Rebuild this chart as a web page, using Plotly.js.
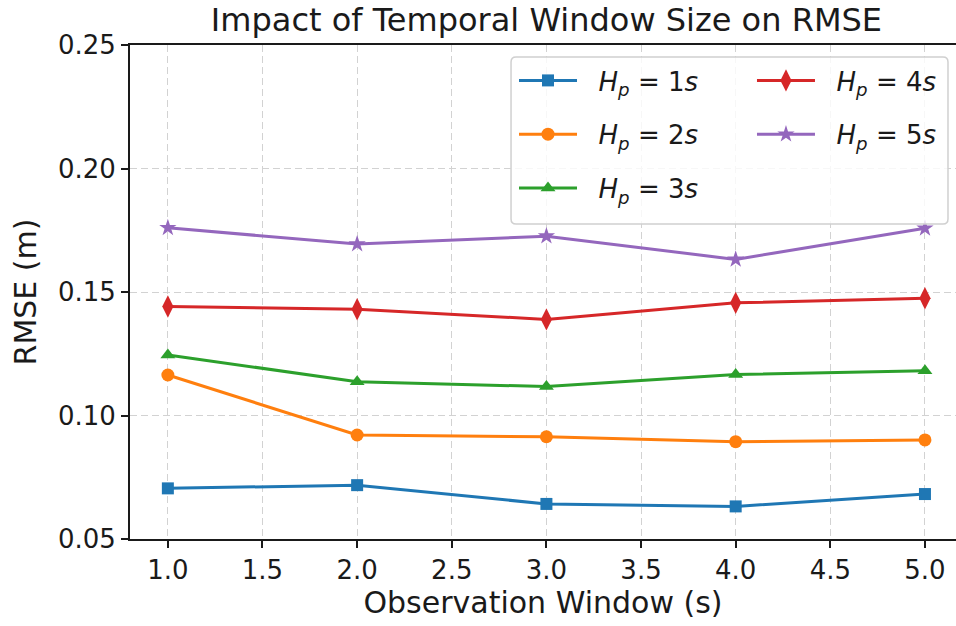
<!DOCTYPE html>
<html>
<head>
<meta charset="utf-8">
<script src="https://cdn.plot.ly/plotly-3.0.1.min.js"></script>
<style>html,body{margin:0;padding:0;background:#fff;}#chart{width:956px;height:626px;}</style>
</head>
<body>
<div id="chart"></div>
<script>
const windows = [1, 2, 3, 4, 5];
const seriesNames = ['H<sub>p</sub> = 1s', 'H<sub>p</sub> = 2s', 'H<sub>p</sub> = 3s', 'H<sub>p</sub> = 4s', 'H<sub>p</sub> = 5s'];
const legendLabels = ['&nbsp;&nbsp;<i>H</i><sub><i>p</i></sub> = 1<i>s</i>', '&nbsp;&nbsp;<i>H</i><sub><i>p</i></sub> = 2<i>s</i>', '&nbsp;&nbsp;<i>H</i><sub><i>p</i></sub> = 3<i>s</i>', '&nbsp;&nbsp;<i>H</i><sub><i>p</i></sub> = 4<i>s</i>', '&nbsp;&nbsp;<i>H</i><sub><i>p</i></sub> = 5<i>s</i>'];
const rmseH1 = [0.0705, 0.0718, 0.0642, 0.0632, 0.0682];
const rmseH2 = [0.1164, 0.0921, 0.0914, 0.0894, 0.0901];
const rmseH3 = [0.1245, 0.1137, 0.1117, 0.1166, 0.1181];
const rmseH4 = [0.1441, 0.1430, 0.1389, 0.1456, 0.1475];
const rmseH5 = [0.1760, 0.1694, 0.1726, 0.1632, 0.1758];
const yTicks = [0.05, 0.10, 0.15, 0.20, 0.25];
const xTicks = [1.0, 1.5, 2.0, 2.5, 3.0, 3.5, 4.0, 4.5, 5.0];

const colors = ['#1f77b4', '#ff7f0e', '#2ca02c', '#d62728', '#9467bd'];
const symbols = ['square', 'circle', 'triangle-up', 'diamond-tall', 'star'];
const sizes = [12, 13, 13, 16, 13];
const legendIds = ['legend', 'legend', 'legend', 'legend2', 'legend2'];
const allSeries = [rmseH1, rmseH2, rmseH3, rmseH4, rmseH5];

const traces = allSeries.map((ys, i) => ({
  x: windows, y: ys, type: 'scatter', mode: 'lines+markers',
  name: legendLabels[i], legend: legendIds[i], legendgroup: 'g' + i,
  line: {color: colors[i], width: 3},
  marker: {color: colors[i], symbol: symbols[i], size: sizes[i], line: {width: 0}}
}));

const font = 'DejaVu Sans, sans-serif';
const ink = '#1a1a1a';
// legend frame (rounded) in paper coords
const fx0 = 0.4613, fx1 = 0.9903, fy0 = 0.6377, fy1 = 0.9757, rx = 5 / 826, ry = 5 / 494;
const framePath = `M${fx0 + rx},${fy0} L${fx1 - rx},${fy0} Q${fx1},${fy0} ${fx1},${fy0 + ry} L${fx1},${fy1 - ry} Q${fx1},${fy1} ${fx1 - rx},${fy1} L${fx0 + rx},${fy1} Q${fx0},${fy1} ${fx0},${fy1 - ry} L${fx0},${fy0 + ry} Q${fx0},${fy0} ${fx0 + rx},${fy0} Z`;

const legendCommon = {
  bgcolor: 'rgba(0,0,0,0)', borderwidth: 0,
  font: {family: font, size: 26, color: ink},
  itemwidth: 58, tracegroupgap: 17, orientation: 'v',
  yanchor: 'top', xanchor: 'left', y: 0.9757
};

const layout = {
  width: 956, height: 626,
  margin: {l: 130, r: 0, t: 45, b: 87},
  paper_bgcolor: '#fff', plot_bgcolor: '#fff',
  font: {family: font, color: ink, size: 26},
  title: {text: 'Impact of Temporal Window Size on RMSE', font: {family: font, size: 32, color: ink}, x: 0.5716, xanchor: 'center', y: 0.968, yanchor: 'middle'},
  xaxis: {
    range: [0.8, 5.164], tickvals: xTicks, ticktext: xTicks.map(v => v.toFixed(1)),
    showgrid: true, gridcolor: '#d2d2d2', griddash: '7px,4px', gridwidth: 1,
    showline: true, linecolor: ink, linewidth: 2, mirror: true,
    ticks: 'outside', ticklen: 7, tickwidth: 2, tickcolor: ink,
    tickfont: {size: 26, family: font, color: ink}, zeroline: false,
    title: {text: 'Observation Window (s)', font: {size: 30, family: font, color: ink}, standoff: 8}
  },
  yaxis: {
    range: [0.05, 0.25], tickvals: yTicks, ticktext: yTicks.map(v => v.toFixed(2)),
    showgrid: true, gridcolor: '#d2d2d2', griddash: '7px,4px', gridwidth: 1,
    showline: true, linecolor: ink, linewidth: 2, mirror: false,
    ticks: 'outside', ticklen: 7, tickwidth: 2, tickcolor: ink,
    tickfont: {size: 26, family: font, color: ink}, zeroline: false,
    title: {text: 'RMSE (m)', font: {size: 30, family: font, color: ink}, standoff: 12}
  },
  legend: Object.assign({}, legendCommon, {x: 0.4649}),
  legend2: Object.assign({}, legendCommon, {x: 0.753}),
  shapes: [{
    type: 'path', xref: 'paper', yref: 'paper', path: framePath, layer: 'above',
    fillcolor: 'rgba(255,255,255,0.82)', line: {color: '#d0d0d0', width: 1.5}
  }],
  showlegend: true
};

Plotly.newPlot('chart', traces, layout, {displayModeBar: false, staticPlot: true});
</script>
</body>
</html>
